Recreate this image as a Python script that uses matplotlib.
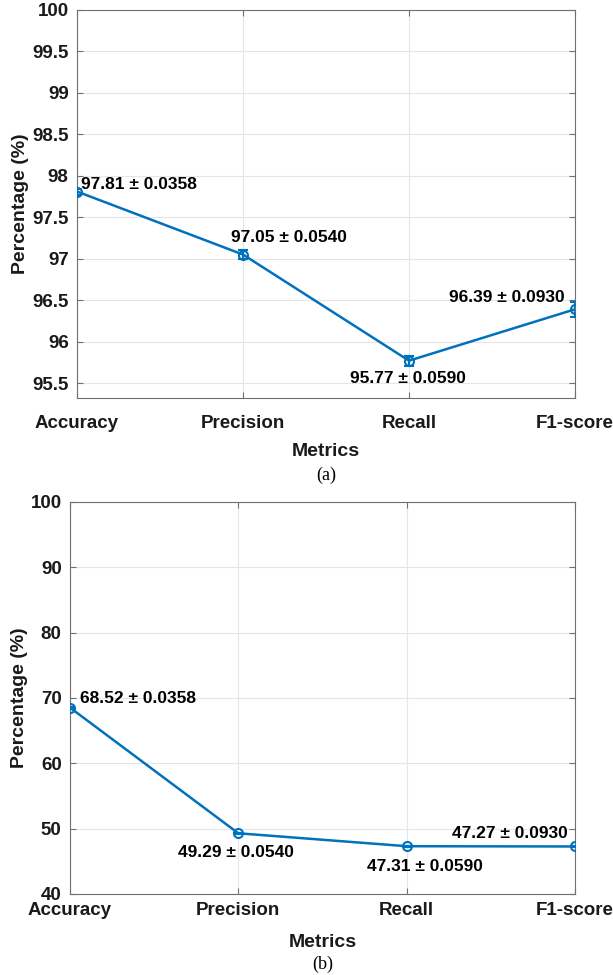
import numpy as np
import matplotlib.pyplot as plt

plt.rcParams['font.family'] = ['Liberation Sans', 'DejaVu Sans']

metrics = ['Accuracy', 'Precision', 'Recall', 'F1-score']
values_a = [97.81, 97.05, 95.77, 96.39]
errors_a = [0.0358, 0.0540, 0.0590, 0.0930]
values_b = [68.52, 49.29, 47.31, 47.27]
errors_b = [0.0358, 0.0540, 0.0590, 0.0930]

blue = '#0072BD'
axis_gray = '#1a1a1a'

fig = plt.figure(figsize=(6.13, 9.75), dpi=100)


def draw_panel(ax, vals, errs, ylim, yticks, offsets, caption, cap_y,
               xpad, xlabelpad):
    x = np.arange(1, len(metrics) + 1)
    ax.errorbar(x, vals, yerr=errs, color=blue, lw=1.8, marker='o', ms=6.5,
                mfc='none', mew=1.5, capsize=3.5, elinewidth=1.5, capthick=1.5,
                zorder=3)
    for xi, v, e, (dx, dy, ha) in zip(x, vals, errs, offsets):
        ax.annotate(f'{v:.2f} \u00b1 {e:.4f}', (xi, v), xytext=(dx, dy),
                    textcoords='offset pixels', ha=ha, va='center',
                    fontsize=12.5, fontweight='bold', color='black')
    ax.set_xlim(1, len(metrics))
    ax.set_ylim(*ylim)
    ax.set_xticks(x)
    ax.set_xticklabels(metrics)
    ax.set_yticks(yticks)
    ax.set_yticklabels([f'{t:g}' for t in yticks])
    ax.grid(True, color='#e6e6e6', lw=0.8)
    ax.set_axisbelow(True)
    ax.tick_params(direction='in', length=4, width=0.8, colors='#707070',
                   labelcolor=axis_gray, labelsize=13.5, top=True, right=True)
    ax.tick_params(axis='x', pad=xpad)
    ax.tick_params(axis='y', pad=6)
    for lab in ax.get_xticklabels() + ax.get_yticklabels():
        lab.set_fontweight('bold')
    for sp in ax.spines.values():
        sp.set_color('#707070')
        sp.set_linewidth(0.8)
    ax.set_xlabel('Metrics', fontsize=14, fontweight='bold', color=axis_gray,
                  labelpad=xlabelpad)
    ax.set_ylabel('Percentage (%)', fontsize=14, fontweight='bold',
                  color=axis_gray, labelpad=2)
    pos = ax.get_position()
    fig.text(0.5 * (pos.x0 + pos.x1), cap_y, caption,
             ha='center', va='center', fontsize=13,
             family=['Liberation Serif', 'DejaVu Serif'])


ax1 = fig.add_axes([0.1256, 0.5918, 0.8124, 0.398])
draw_panel(ax1, values_a, errors_a, (95.32, 100), np.arange(95.5, 100.01, 0.5),
           [(4, 7, 'left'), (-12, 17, 'left'), (-1, -18, 'center'),
            (-10, 12, 'right')],
           '(a)', 1 - 475 / 975, 12, 8)

ax2 = fig.add_axes([0.1142, 0.0831, 0.8238, 0.4021])
draw_panel(ax2, values_b, errors_b, (40, 100), np.arange(40, 101, 10),
           [(10, 9, 'left'), (-2, -19, 'center'), (18, -20, 'center'),
            (-7, 13, 'right')],
           '(b)', 1 - 964 / 975, 6, 10.5)

fig.savefig('out.png', dpi=100)
